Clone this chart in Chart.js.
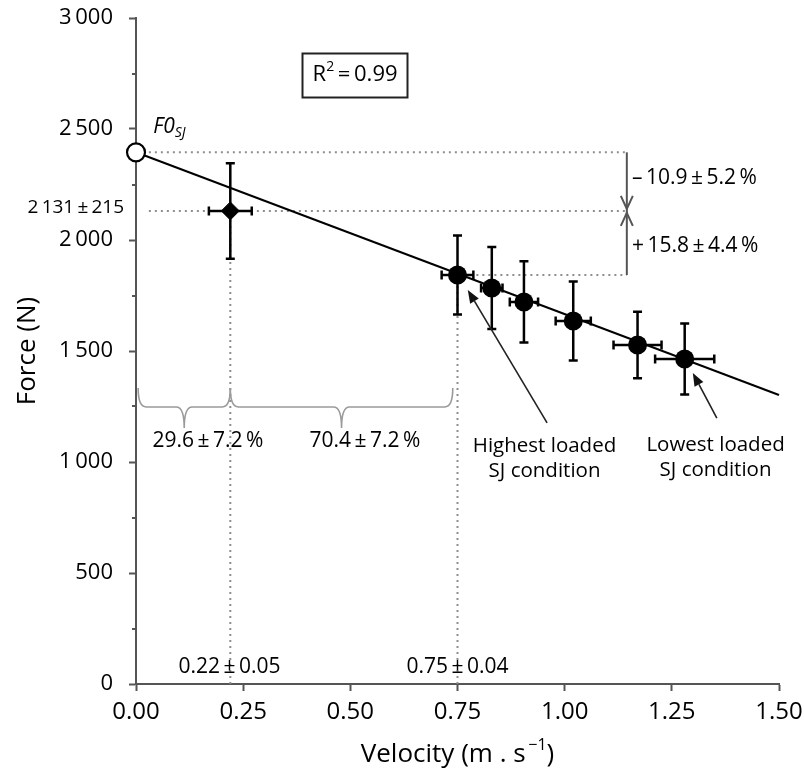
<!DOCTYPE html>
<html><head><meta charset="utf-8">
<script src="https://cdn.jsdelivr.net/npm/chart.js@4"></script>
<style>html,body{margin:0;padding:0;background:#fff;} canvas{display:block;}</style>
</head><body>
<canvas id="c" width="804" height="772"></canvas>
<script>
// ---- data ----
const xTicks = [0, 0.25, 0.5, 0.75, 1.0, 1.25, 1.5];
const yTicks = [0, 500, 1000, 1500, 2000, 2500, 3000];
const loadVelocity   = [0.75, 0.83, 0.905, 1.02, 1.17, 1.28];
const loadForce      = [1842, 1784, 1721, 1635, 1527, 1464];
const loadForceSD    = [178, 185, 183, 178, 150, 160];
const loadVelocitySD = [0.037, 0.025, 0.033, 0.041, 0.056, 0.069];
const peakVelocity   = [0.22];
const peakForce      = [2131];
const peakForceSD    = [215];
const peakVelocitySD = [0.05];
const f0Velocity     = [0];
const f0Force        = [2395];
const fitVelocity    = [0, 1.5];
const fitForce       = [2395, 1302];
const bracketVelocity = 1.145;

const FONT = '"Open Sans", "Noto Sans", sans-serif';
const INK = '#000';
Chart.defaults.font.family = FONT;

const pts = (xs, ys) => xs.map((x, i) => ({x, y: ys[i]}));
const dotted = (data) => ({
  data, showLine: true, pointRadius: 0, borderColor: '#8e8e8e', borderWidth: 2,
  borderDash: [2, 4], order: 10, clip: false
});
const fmtY = v => String(v).replace(/\B(?=(\d{3})+$)/, '\u2009');

// ---- annotations (positions in data units) ----
const notes = [
  {v: 0.511, f: 2743, align: 'center', box: true,
   parts: [['R', 22], ['2', 14, -8], ['\u2009=\u20090.99', 22]]},
  {v: 0.040, f: 2510, align: 'left',
   parts: [['F0', 21, 0, 'italic'], ['SJ', 14, 6, 'italic']]},
  {v: -0.028, f: 2144, align: 'right', parts: [['2\u2009131\u2009±\u2009215', 19]]},
  {v: 1.157, f: 2279, align: 'left', parts: [['–\u200910.9\u2009±\u20095.2\u2009%', 21]]},
  {v: 1.157, f: 1973, align: 'left', parts: [['+\u200915.8\u2009±\u20094.4\u2009%', 21]]},
  {v: 0.168, f: 1095, align: 'center', parts: [['29.6\u2009±\u20097.2\u2009%', 21]]},
  {v: 0.534, f: 1095, align: 'center', parts: [['70.4\u2009±\u20097.2\u2009%', 21]]},
  {v: 0.953, f: 1072, align: 'center', parts: [['Highest loaded', 20.5]]},
  {v: 0.953, f: 959, align: 'center', parts: [['SJ condition', 20.5]]},
  {v: 1.352, f: 1077, align: 'center', parts: [['Lowest loaded', 20.5]]},
  {v: 1.352, f: 964, align: 'center', parts: [['SJ condition', 20.5]]},
  {v: 0.218, f: 77, align: 'center', parts: [['0.22\u2009±\u20090.05', 21]]},
  {v: 0.75, f: 77, align: 'center', parts: [['0.75\u2009±\u20090.04', 21]]}
];
const arrows = [
  {from: [0.959, 1176], to: [0.774, 1775]},
  {from: [1.355, 1198], to: [1.299, 1401]}
];
const braces = [
  {from: 0.005, to: 0.22, f: 1248, top: 1333, tip: 1153},
  {from: 0.22, to: 0.739, f: 1248, top: 1333, tip: 1153}
];

function fontStr(size, style) { return (style ? style + ' ' : '') + size + 'px ' + FONT; }
function drawRich(ctx, x, y, parts, align) {
  let w = 0;
  parts.forEach(p => { ctx.font = fontStr(p[1], p[3]); w += ctx.measureText(p[0]).width; });
  let cx = align === 'center' ? x - w / 2 : align === 'right' ? x - w : x;
  const x0 = cx;
  ctx.textBaseline = 'middle'; ctx.textAlign = 'left'; ctx.fillStyle = INK;
  parts.forEach(p => {
    ctx.font = fontStr(p[1], p[3]);
    ctx.fillText(p[0], cx, y + (p[2] || 0));
    cx += ctx.measureText(p[0]).width;
  });
  return {x0, x1: cx};
}

const errorBars = {
  id: 'errorBars',
  afterDatasetsDraw(chart) {
    const {ctx, scales: {x, y}} = chart;
    const groups = [
      [loadVelocity, loadForce, loadVelocitySD, loadForceSD],
      [peakVelocity, peakForce, peakVelocitySD, peakForceSD]
    ];
    ctx.save();
    ctx.strokeStyle = '#000'; ctx.lineWidth = 2.5; ctx.lineCap = 'butt';
    groups.forEach(([vs, fs, vsd, fsd]) => {
      vs.forEach((v, i) => {
        const px = x.getPixelForValue(v), py = y.getPixelForValue(fs[i]);
        const t = y.getPixelForValue(fs[i] + fsd[i]), b = y.getPixelForValue(fs[i] - fsd[i]);
        const l = x.getPixelForValue(v - vsd[i]), r = x.getPixelForValue(v + vsd[i]);
        ctx.beginPath();
        ctx.moveTo(px, t); ctx.lineTo(px, b);
        ctx.moveTo(px - 4.5, t); ctx.lineTo(px + 4.5, t);
        ctx.moveTo(px - 4.5, b); ctx.lineTo(px + 4.5, b);
        ctx.moveTo(l, py); ctx.lineTo(r, py);
        ctx.moveTo(l, py - 4.5); ctx.lineTo(l, py + 4.5);
        ctx.moveTo(r, py - 4.5); ctx.lineTo(r, py + 4.5);
        ctx.stroke();
      });
    });
    ctx.restore();
  }
};

const extras = {
  id: 'extras',
  afterDraw(chart) {
    const {ctx, scales: {x, y}} = chart;
    ctx.save();
    // minor y ticks
    ctx.strokeStyle = '#555'; ctx.lineWidth = 2;
    for (let v = 250; v < 3000; v += 500) {
      const py = Math.round(y.getPixelForValue(v));
      ctx.beginPath(); ctx.moveTo(x.left - 4, py); ctx.lineTo(x.left, py); ctx.stroke();
    }
    // bracket with arrows
    const bx = x.getPixelForValue(bracketVelocity);
    const bt = y.getPixelForValue(f0Force[0]), bm = y.getPixelForValue(peakForce[0]), bb = y.getPixelForValue(loadForce[0]);
    ctx.strokeStyle = '#555'; ctx.lineWidth = 2;
    ctx.beginPath(); ctx.moveTo(bx, bt); ctx.lineTo(bx, bb); ctx.stroke();
    ctx.beginPath();
    ctx.moveTo(bx - 6, bm - 15); ctx.lineTo(bx, bm - 2); ctx.lineTo(bx + 6, bm - 15);
    ctx.moveTo(bx - 6, bm + 15); ctx.lineTo(bx, bm + 2); ctx.lineTo(bx + 6, bm + 15);
    ctx.stroke();
    // braces
    ctx.strokeStyle = '#9a9a9a'; ctx.lineWidth = 1.6;
    braces.forEach(b => {
      const x0 = x.getPixelForValue(b.from), x1 = x.getPixelForValue(b.to);
      const xm = (x0 + x1) / 2;
      const yb = y.getPixelForValue(b.f), yt = y.getPixelForValue(b.top), yp = y.getPixelForValue(b.tip);
      const r = 8;
      ctx.beginPath();
      ctx.moveTo(x0, yt);
      ctx.quadraticCurveTo(x0, yb, x0 + r, yb);
      ctx.lineTo(xm - r, yb);
      ctx.quadraticCurveTo(xm, yb, xm, yp);
      ctx.quadraticCurveTo(xm, yb, xm + r, yb);
      ctx.lineTo(x1 - r, yb);
      ctx.quadraticCurveTo(x1, yb, x1, yt);
      ctx.stroke();
    });
    // arrows
    ctx.strokeStyle = '#222'; ctx.fillStyle = '#111'; ctx.lineWidth = 1.6;
    arrows.forEach(a => {
      const fx = x.getPixelForValue(a.from[0]), fy = y.getPixelForValue(a.from[1]);
      const tx = x.getPixelForValue(a.to[0]), ty = y.getPixelForValue(a.to[1]);
      const ang = Math.atan2(ty - fy, tx - fx), L = 13, W = 5;
      const hx = tx - L * Math.cos(ang), hy = ty - L * Math.sin(ang);
      ctx.beginPath(); ctx.moveTo(fx, fy); ctx.lineTo(hx, hy); ctx.stroke();
      ctx.beginPath();
      ctx.moveTo(tx, ty);
      ctx.lineTo(hx + W * Math.sin(ang), hy - W * Math.cos(ang));
      ctx.lineTo(hx - W * Math.sin(ang), hy + W * Math.cos(ang));
      ctx.closePath(); ctx.fill();
    });
    // texts
    notes.forEach(n => {
      const px = x.getPixelForValue(n.v), py = y.getPixelForValue(n.f);
      const ext = drawRich(ctx, px, py, n.parts, n.align);
      if (n.box) {
        ctx.strokeStyle = '#222'; ctx.lineWidth = 2;
        ctx.strokeRect(Math.round(ext.x0 - 11) + 0.5, Math.round(py - 22) + 0.5, Math.round(ext.x1 - ext.x0 + 20), 44);
      }
    });
    // x axis title with superscript
    const tx = (x.left + x.right) / 2;
    drawRich(ctx, tx, 755, [['Velocity (m . s', 26], ['\u2009\u22121', 16, -10], [')', 26]], 'center');
    ctx.restore();
  }
};

const noPad = s => { s.paddingTop = 0; s.paddingBottom = 0; s.paddingLeft = 0; s.paddingRight = 0; };

new Chart(document.getElementById('c'), {
  type: 'scatter',
  data: {
    datasets: [
      {data: pts(loadVelocity, loadForce), pointRadius: 9.5, pointBackgroundColor: '#000', pointBorderColor: '#000', borderWidth: 0, order: 0, clip: false},
      {data: pts(peakVelocity, peakForce), pointStyle: 'rectRot', pointRadius: 9, pointBackgroundColor: '#000', pointBorderColor: '#000', order: 0, clip: false},
      {data: pts(f0Velocity, f0Force), pointRadius: 9, pointBackgroundColor: '#fff', pointBorderColor: '#000', pointBorderWidth: 2.2, order: 0, clip: false},
      {data: pts(fitVelocity, fitForce), showLine: true, pointRadius: 0, borderColor: '#000', borderWidth: 2, order: 5, clip: false},
      dotted([{x: 0.03, y: f0Force[0]}, {x: bracketVelocity, y: f0Force[0]}]),
      dotted([{x: 0.03, y: peakForce[0]}, {x: bracketVelocity, y: peakForce[0]}]),
      dotted([{x: 0.78, y: loadForce[0]}, {x: bracketVelocity, y: loadForce[0]}]),
      dotted([{x: peakVelocity[0], y: 0}, {x: peakVelocity[0], y: peakForce[0]}]),
      dotted([{x: loadVelocity[0], y: 0}, {x: loadVelocity[0], y: loadForce[0]}])
    ]
  },
  options: {
    responsive: false,
    animation: false,
    layout: {padding: {top: 18, right: 25, left: 0, bottom: 0}},
    plugins: {legend: {display: false}, tooltip: {enabled: false}},
    scales: {
      x: {
        type: 'linear', min: 0, max: 1.5,
        afterBuildTicks: s => { s.ticks = xTicks.map(v => ({value: v})); },
        ticks: {callback: v => Number(v).toFixed(2), font: {size: 24}, color: INK, padding: 7, maxRotation: 0},
        grid: {drawOnChartArea: false, tickLength: 7, tickColor: '#555', tickWidth: 2},
        border: {color: '#555', width: 2},
        afterFit: s => { s.height = 88; noPad(s); }
      },
      y: {
        type: 'linear', min: 0, max: 3000,
        afterBuildTicks: s => { s.ticks = yTicks.map(v => ({value: v})); },
        ticks: {callback: v => fmtY(v), font: {size: 22}, color: INK, padding: 16},
        grid: {drawOnChartArea: false, tickLength: 7, tickColor: '#555', tickWidth: 2},
        border: {color: '#555', width: 2},
        title: {display: true, text: 'Force (N)', font: {size: 26}, color: INK, padding: {top: 12, bottom: 0}},
        afterFit: s => { s.width = 136; noPad(s); }
      }
    }
  },
  plugins: [errorBars, extras]
});
</script>
</body></html>
